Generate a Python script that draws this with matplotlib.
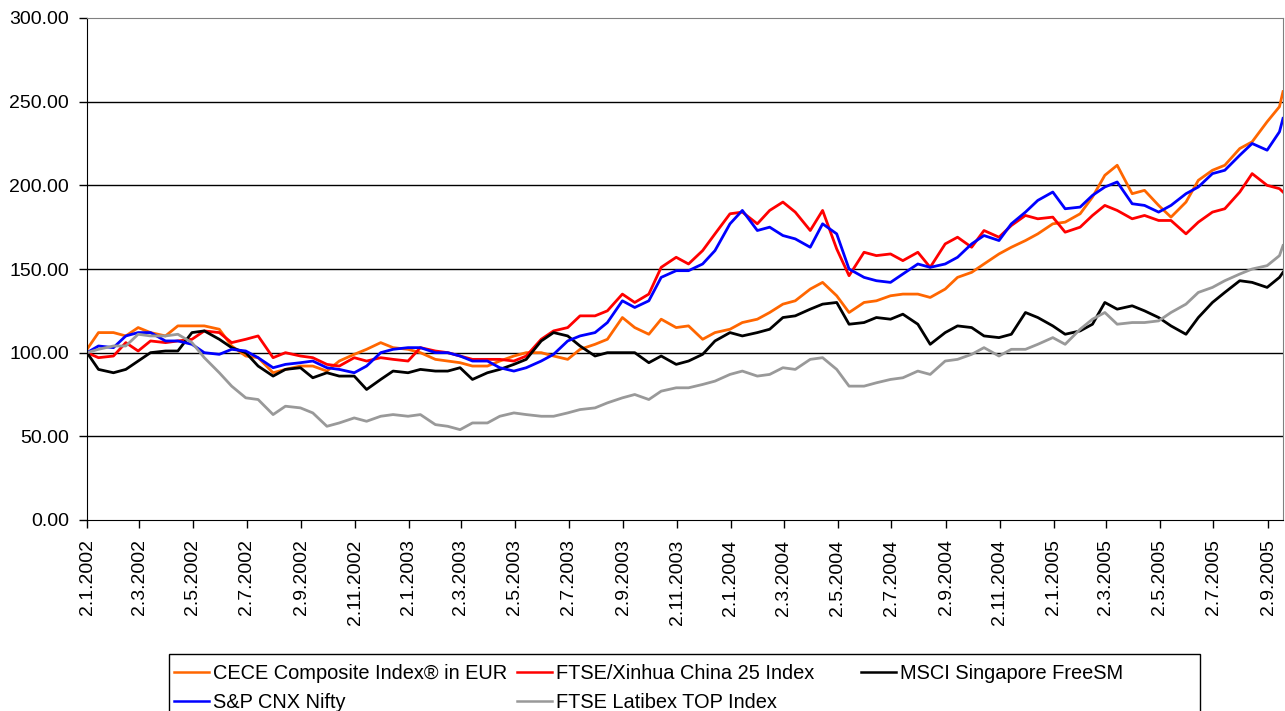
import pandas as pd
import matplotlib
matplotlib.use("Agg")
import matplotlib.pyplot as plt
import matplotlib.ticker as mticker
from matplotlib.lines import Line2D
from matplotlib.patches import Rectangle

plt.rcParams['font.family'] = ['Liberation Sans', 'DejaVu Sans']

# tarih ekseni: yarım aylık okumalar (1. ve 15. gün), başlangıç ve son gün ile
dates = ([pd.Timestamp('2002-01-02')]
         + list(pd.date_range('2002-01-15', '2005-09-15', freq='SMS'))
         + [pd.Timestamp('2005-09-19')])

cece = [102, 112, 112, 110, 115, 112, 110, 116, 116, 116, 114, 104, 98, 97, 88, 90,
        92, 92, 89, 95, 99, 102, 106, 103, 102, 100, 96, 95, 94, 92,
        92, 95, 98, 100, 100, 98, 96, 102, 105, 108, 121, 115, 111, 120, 115, 116,
        108, 112, 114, 118, 120, 124, 129, 131, 138, 142, 134, 124, 130, 131, 134,
        135, 135, 133, 138, 145, 148, 153, 159, 163, 167, 171, 177, 178, 183, 193,
        206, 212, 195, 197, 188, 181, 190, 203, 209, 212, 222, 226, 238, 247, 256]

xinhua = [100, 97, 98, 106, 101, 107, 106, 107, 108, 113, 112, 106, 108, 110, 97, 100,
          98, 97, 93, 92, 97, 95, 97, 96, 95, 103, 101, 100, 98, 96,
          96, 96, 95, 98, 108, 113, 115, 122, 122, 125, 135, 130, 135, 151, 157, 153,
          161, 171, 183, 184, 177, 185, 190, 184, 173, 185, 162, 146, 160, 158, 159,
          155, 160, 151, 165, 169, 163, 173, 169, 176, 182, 180, 181, 172, 175, 182,
          188, 185, 180, 182, 179, 179, 171, 178, 184, 186, 196, 207, 200, 198, 196]

singapore = [100, 90, 88, 90, 95, 100, 101, 101, 112, 113, 108, 103, 100, 92, 86, 90,
             91, 85, 88, 86, 86, 78, 84, 89, 88, 90, 89, 89, 91, 84,
             88, 90, 93, 96, 107, 112, 110, 104, 98, 100, 100, 100, 94, 98, 93, 95,
             99, 107, 112, 110, 112, 114, 121, 122, 126, 129, 130, 117, 118, 121, 120,
             123, 117, 105, 112, 116, 115, 110, 109, 111, 124, 121, 116, 111, 113, 117,
             130, 126, 128, 125, 121, 116, 111, 121, 130, 136, 143, 142, 139, 145, 148]

nifty = [100, 104, 103, 110, 112, 112, 107, 107, 105, 100, 99, 102, 101, 97, 91, 93,
         94, 95, 91, 90, 88, 92, 100, 102, 103, 103, 100, 100, 98, 95,
         95, 91, 89, 91, 95, 99, 107, 110, 112, 118, 131, 127, 131, 145, 149, 149,
         153, 161, 177, 185, 173, 175, 170, 168, 163, 177, 171, 150, 145, 143, 142,
         147, 153, 151, 153, 157, 165, 170, 167, 177, 184, 191, 196, 186, 187, 194,
         199, 202, 189, 188, 184, 188, 195, 199, 207, 209, 218, 225, 221, 232, 240]

latibex = [100, 102, 104, 104, 111, 110, 110, 111, 106, 97, 88, 80, 73, 72, 63, 68,
           67, 64, 56, 58, 61, 59, 62, 63, 62, 63, 57, 56, 54, 58,
           58, 62, 64, 63, 62, 62, 64, 66, 67, 70, 73, 75, 72, 77, 79, 79,
           81, 83, 87, 89, 86, 87, 91, 90, 96, 97, 90, 80, 80, 82, 84,
           85, 89, 87, 95, 96, 99, 103, 98, 102, 102, 105, 109, 105, 114, 120,
           124, 117, 118, 118, 119, 124, 129, 136, 139, 143, 147, 150, 152, 158, 164]

labels = ['CECE Composite Index® in EUR', 'FTSE/Xinhua China 25 Index',
          'MSCI Singapore FreeSM', 'S&P CNX Nifty', 'FTSE Latibex TOP Index']
colors = ['#FF6600', '#FF0000', '#000000', '#0000FF', '#999999']
series = [cece, xinhua, singapore, nifty, latibex]

tick_dates = [pd.Timestamp(2002 + (m // 12), m % 12 + 1, 2) for m in range(0, 45, 2)]

fig = plt.figure(figsize=(12.85, 7.11), dpi=100)
ax = fig.add_axes([87 / 1285, 1 - 520 / 711, (1283 - 87) / 1285, (520 - 18) / 711])

for vals, c in zip(series, colors):
    ax.plot(dates, vals, color=c, linewidth=2.0)

ax.set_ylim(0, 300)
ax.set_yticks(range(0, 301, 50))
ax.yaxis.set_major_formatter(mticker.FormatStrFormatter('%.2f'))
ax.set_xlim(pd.Timestamp('2002-01-02'), pd.Timestamp('2005-09-19'))
ax.set_xticks(tick_dates)
ax.set_xticklabels([f'{d.day}.{d.month}.{d.year}' for d in tick_dates], rotation=90)

for v in range(50, 300, 50):
    ax.axhline(v, color='black', linewidth=1, zorder=0)

ax.spines['top'].set_color('#808080')
ax.spines['right'].set_color('#808080')
ax.tick_params(axis='both', labelsize=14, length=6, width=1, direction='out', color='black')
ax.tick_params(axis='x', pad=8)
ax.tick_params(axis='y', pad=7)

# lejant: üç sütun, elle yerleştirme
cols = [[0, 3], [1, 4], [2]]
col_x = [174, 517, 861]
for idx, cx in zip(cols, col_x):
    hs = [Line2D([], [], color=colors[i], linewidth=1.8) for i in idx]
    fig.legend(hs, [labels[i] for i in idx], loc='upper left',
               bbox_to_anchor=(cx / 1285, 1 - 664 / 711), bbox_transform=fig.transFigure,
               frameon=False, fontsize=14.4, handlelength=1.75, handletextpad=0.2,
               borderpad=0, borderaxespad=0, labelspacing=0.5)
fig.patches.append(Rectangle((169 / 1285, -0.05), (1200 - 169) / 1285, (711 - 654) / 711 + 0.05,
                             transform=fig.transFigure, fill=False, edgecolor='black', linewidth=1))

plt.savefig('out.png', dpi=100)
